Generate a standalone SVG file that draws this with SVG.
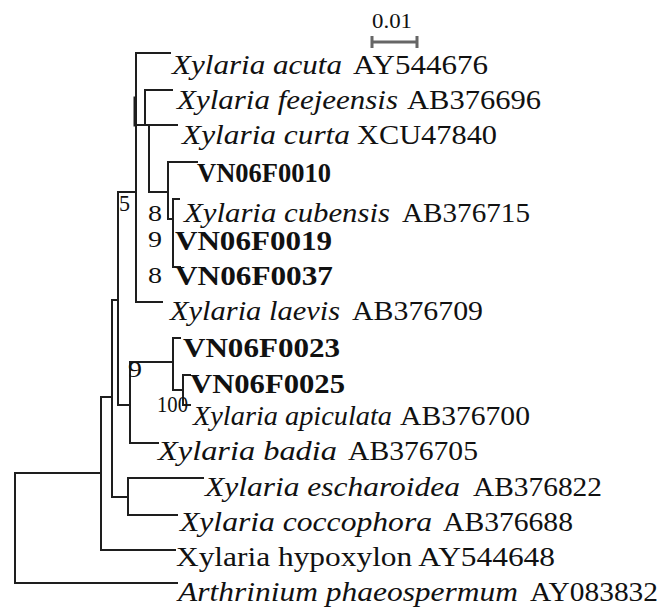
<svg xmlns="http://www.w3.org/2000/svg" width="665" height="613" viewBox="0 0 665 613">
<style>
.t{font-family:"Liberation Serif","Times New Roman",serif;font-size:28px;fill:#111}
.i{font-style:italic}
.b{font-weight:bold}
.s{font-family:"Liberation Serif","Times New Roman",serif;font-size:23px;fill:#111}
.br{stroke:#1e1e1e;stroke-width:2;fill:none;stroke-linecap:square}
.sc{stroke:#666;stroke-width:3;fill:none}
</style>
<rect width="665" height="613" fill="#fff"/>
<g id="connectors" class="br">
<path d="M15,473V583M15,473H101M15,583H177"/>
<path d="M101,397V550M101,550H175M101,397H112"/>
<path d="M112,300V497M112,497H128M128,478V515M128,478H203M128,515H177"/>
<path d="M112,300H118M118,192V405M118,405H130"/>
<path d="M130,362V443M130,443H158M130,362H173"/>
<path d="M173,338V390M173,338H180M173,390H183M183,375V405M183,375H190M183,405H190"/>
<path d="M118,192H136M136,53V302M136,53H170M136,302H162"/>
<path d="M136,125H177M145,90V125M145,90H172"/>
<path d="M149,125V192M149,192H168M168,162V219M168,162H197M168,219H173"/>
<path d="M173,199V267M173,199H179M173,267H180"/>
<path d="M135,98V125" stroke-width="3"/>
</g>
<g id="scale">
<path class="sc" d="M372,42H417M372,36V48M417,36V48"/>
<text x="372" y="28" class="t" style="font-size:22px" textLength="40" lengthAdjust="spacingAndGlyphs">0.01</text>
</g>
<g id="n-acuta"><text x="172" y="74" class="t i" textLength="170" lengthAdjust="spacingAndGlyphs">Xylaria acuta</text><text x="353" y="74" class="t" textLength="135" lengthAdjust="spacingAndGlyphs">AY544676</text></g>
<g id="n-feejeensis"><text x="177" y="109" class="t i" textLength="221" lengthAdjust="spacingAndGlyphs">Xylaria feejeensis</text><text x="407" y="109" class="t" textLength="134" lengthAdjust="spacingAndGlyphs">AB376696</text></g>
<g id="n-curta"><text x="182" y="144" class="t i" textLength="168" lengthAdjust="spacingAndGlyphs">Xylaria curta</text><text x="357" y="144" class="t" textLength="140" lengthAdjust="spacingAndGlyphs">XCU47840</text></g>
<g id="n-VN06F0010"><text x="197" y="182" class="t b" textLength="134" lengthAdjust="spacingAndGlyphs">VN06F0010</text></g>
<g id="n-cubensis"><text x="184" y="222" class="t i" textLength="206" lengthAdjust="spacingAndGlyphs">Xylaria cubensis</text><text x="402" y="222" class="t" textLength="128" lengthAdjust="spacingAndGlyphs">AB376715</text></g>
<g id="n-VN06F0019"><text x="175" y="250" class="t b" textLength="157" lengthAdjust="spacingAndGlyphs">VN06F0019</text></g>
<g id="n-VN06F0037"><text x="175" y="285" class="t b" textLength="158" lengthAdjust="spacingAndGlyphs">VN06F0037</text></g>
<g id="n-laevis"><text x="170" y="320" class="t i" textLength="170" lengthAdjust="spacingAndGlyphs">Xylaria laevis</text><text x="352" y="320" class="t" textLength="131" lengthAdjust="spacingAndGlyphs">AB376709</text></g>
<g id="n-VN06F0023"><text x="183" y="357" class="t b" textLength="157" lengthAdjust="spacingAndGlyphs">VN06F0023</text></g>
<g id="n-VN06F0025"><text x="190" y="393" class="t b" textLength="155" lengthAdjust="spacingAndGlyphs">VN06F0025</text></g>
<g id="n-apiculata"><text x="193" y="425" class="t i" textLength="199" lengthAdjust="spacingAndGlyphs">Xylaria apiculata</text><text x="400" y="425" class="t" textLength="130" lengthAdjust="spacingAndGlyphs">AB376700</text></g>
<g id="n-badia"><text x="158" y="460" class="t i" textLength="179" lengthAdjust="spacingAndGlyphs">Xylaria badia</text><text x="348" y="460" class="t" textLength="130" lengthAdjust="spacingAndGlyphs">AB376705</text></g>
<g id="n-escharoidea"><text x="205" y="496" class="t i" textLength="255" lengthAdjust="spacingAndGlyphs">Xylaria escharoidea</text><text x="473" y="496" class="t" textLength="129" lengthAdjust="spacingAndGlyphs">AB376822</text></g>
<g id="n-coccophora"><text x="180" y="531" class="t i" textLength="252" lengthAdjust="spacingAndGlyphs">Xylaria coccophora</text><text x="443" y="531" class="t" textLength="130" lengthAdjust="spacingAndGlyphs">AB376688</text></g>
<g id="n-hypoxylon"><text x="176" y="566" class="t" textLength="379" lengthAdjust="spacingAndGlyphs">Xylaria hypoxylon AY544648</text></g>
<g id="n-arthrinium"><text x="178" y="601" class="t i" textLength="340" lengthAdjust="spacingAndGlyphs">Arthrinium phaeospermum</text><text x="530" y="601" class="t" textLength="128" lengthAdjust="spacingAndGlyphs">AY083832</text></g>
<g id="support">
<text x="119" y="211" class="s" textLength="11" lengthAdjust="spacingAndGlyphs">5</text>
<text x="148" y="221" class="s" textLength="14" lengthAdjust="spacingAndGlyphs">8</text>
<text x="148" y="247" class="s" textLength="14" lengthAdjust="spacingAndGlyphs">9</text>
<text x="148" y="283" class="s" textLength="14" lengthAdjust="spacingAndGlyphs">8</text>
<text x="128" y="377" class="s" textLength="14" lengthAdjust="spacingAndGlyphs">9</text>
<text x="157" y="412" class="s" textLength="31" lengthAdjust="spacingAndGlyphs">100</text>
</g>
</svg>
